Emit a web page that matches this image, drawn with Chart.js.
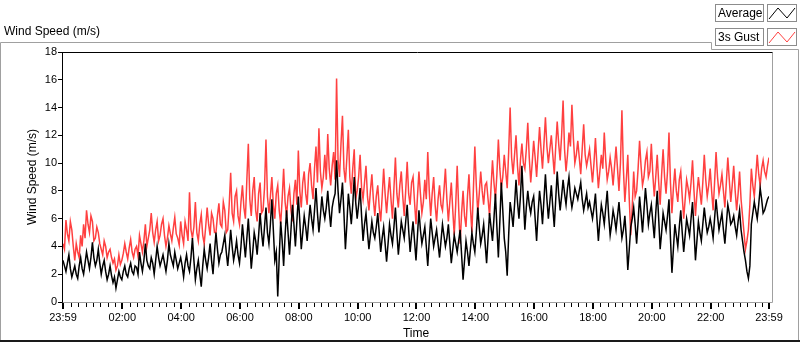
<!DOCTYPE html>
<html>
<head>
<meta charset="utf-8">
<script src="https://cdn.jsdelivr.net/npm/chart.js@4"></script>
<style>
  html, body { margin: 0; padding: 0; background: #fff; }
  #wrap { width: 800px; height: 342px; }
</style>
</head>
<body>
<div id="wrap"><canvas id="c" width="800" height="342"></canvas></div>
<script>
// one sample every 3 minutes, starting at 23:59
const SAMPLE_MIN = 3;

// 3s gust (m/s)
const gustSpeed = [
  4.2, 3.8, 5.9, 4.9, 4.4, 5.8, 5.2, 4.0, 3.0, 4.2, 3.6, 3.2, 4.8, 4.0, 5.6, 4.6, 6.6, 5.6, 5.0, 6.2,
  5.8, 4.4, 4.6, 5.4, 5.0, 4.2, 3.8, 3.4, 4.4, 4.0, 3.2, 3.6, 3.8, 3.2, 2.8, 3.1, 2.3, 2.6, 3.4, 2.7,
  3.0, 3.5, 4.2, 3.6, 3.1, 3.9, 4.5, 3.6, 3.2, 3.8, 4.0, 3.3, 4.8, 4.2, 3.6, 4.4, 5.6, 4.0, 4.6, 5.2,
  6.4, 5.0, 4.3, 5.2, 5.8, 4.4, 4.8, 5.6, 6.0, 4.8, 4.0, 4.6, 5.5, 4.9, 4.4, 5.3, 6.1, 4.9, 4.6, 4.1,
  5.8, 4.8, 4.2, 5.8, 5.2, 4.4, 7.9, 5.2, 4.6, 5.4, 7.2, 5.0, 4.4, 5.6, 6.3, 4.8, 4.2, 5.4, 6.8, 5.6,
  4.8, 6.4, 6.0, 5.0, 5.0, 6.2, 7.1, 5.6, 5.4, 7.2, 6.6, 5.0, 5.2, 7.0, 9.3, 6.4, 5.8, 7.6, 8.0, 6.2,
  5.6, 7.2, 8.4, 6.8, 6.0, 8.8, 11.4, 7.4, 6.2, 8.0, 9.0, 6.6, 5.8, 7.8, 8.6, 6.4, 6.6, 8.2, 11.7, 7.6,
  6.4, 7.6, 9.0, 7.0, 6.0, 7.8, 8.4, 6.6, 5.6, 7.4, 9.6, 7.2, 6.2, 7.6, 8.2, 6.6, 5.8, 7.8, 8.8, 7.0,
  10.9, 8.0, 6.8, 8.6, 9.4, 7.8, 7.0, 9.2, 10.0, 8.4, 7.4, 9.6, 11.2, 8.6, 12.5, 9.4, 8.2, 9.0, 10.6, 8.8,
  12.1, 9.6, 8.4, 9.8, 10.8, 8.8, 16.1, 10.2, 9.0, 11.4, 13.4, 9.6, 8.6, 10.4, 12.4, 9.0, 7.8, 9.6, 11.0, 7.4,
  8.0, 9.0, 10.6, 8.2, 7.4, 8.6, 9.8, 7.6, 6.6, 8.0, 9.2, 7.4, 6.2, 7.6, 8.4, 6.8, 5.8, 7.6, 9.6, 7.8,
  6.4, 7.8, 9.0, 7.4, 6.0, 8.2, 10.4, 7.8, 6.8, 8.4, 9.4, 7.6, 6.2, 8.0, 10.1, 7.8, 7.0, 8.6, 9.0, 7.2,
  5.6, 7.6, 9.4, 7.8, 6.4, 7.2, 8.8, 7.4, 10.8, 8.0, 6.2, 7.8, 9.0, 7.0, 5.8, 7.4, 8.4, 7.0, 6.6, 8.0,
  9.6, 7.4, 5.8, 7.2, 8.6, 6.6, 4.8, 7.0, 9.8, 6.8, 4.2, 6.4, 8.0, 6.2, 5.4, 7.6, 9.2, 6.8, 5.0, 8.0,
  11.2, 8.4, 6.4, 7.8, 9.4, 8.0, 7.0, 8.4, 8.6, 7.4, 6.2, 8.2, 10.2, 8.6, 7.4, 9.2, 11.7, 9.6, 8.2, 9.0,
  10.6, 9.4, 8.2, 10.8, 14.0, 10.4, 9.2, 10.6, 12.0, 9.8, 8.4, 10.2, 11.4, 10.0, 9.6, 11.0, 12.9, 10.4, 8.6, 10.0,
  11.6, 10.4, 9.0, 10.8, 12.6, 11.0, 9.6, 11.4, 13.3, 11.2, 10.0, 11.0, 12.0, 10.6, 9.2, 11.2, 13.0, 11.4, 10.2, 12.0,
  14.5, 11.0, 9.4, 10.6, 12.2, 11.2, 14.2, 11.8, 10.0, 10.6, 11.6, 10.4, 9.2, 11.0, 12.8, 10.6, 9.8, 10.4, 11.0, 9.8,
  8.6, 10.0, 11.8, 9.8, 8.2, 9.4, 10.6, 9.6, 12.2, 10.2, 8.8, 9.4, 10.4, 9.6, 8.4, 9.8, 11.2, 9.6, 8.0, 10.0,
  13.8, 9.6, 7.2, 8.8, 10.6, 7.4, 4.8, 6.8, 9.4, 7.6, 8.0, 9.6, 11.6, 9.8, 8.4, 9.0, 10.2, 10.8, 9.0, 9.4,
  11.4, 9.2, 7.6, 9.0, 10.6, 8.6, 7.0, 9.2, 11.0, 9.0, 7.8, 9.4, 12.2, 8.6, 6.4, 8.2, 9.6, 8.0, 7.2, 8.8,
  9.4, 7.6, 6.0, 7.4, 8.8, 8.2, 7.4, 8.6, 10.2, 8.0, 6.2, 7.8, 9.0, 8.0, 7.0, 8.6, 10.6, 8.8, 7.6, 8.4,
  9.6, 8.0, 6.6, 8.6, 10.8, 9.0, 7.8, 8.4, 9.2, 8.0, 6.8, 8.6, 10.4, 8.8, 7.2, 8.4, 9.8, 8.0, 6.6, 7.8,
  9.4, 7.4, 6.2, 5.0, 3.8, 4.4, 5.2, 7.0, 9.6, 8.4, 7.6, 9.0, 10.6, 9.2, 8.4, 9.6, 10.2, 9.4, 9.0, 9.8, 10.4
];

// average (m/s)
const avgSpeed = [
  3.0, 2.6, 2.2, 2.8, 3.4, 2.4, 1.8, 2.2, 2.6, 2.0, 1.7, 2.6, 3.2, 2.4, 2.0, 2.8, 3.6, 3.0, 2.4, 3.2,
  4.3, 3.2, 2.6, 3.0, 3.8, 2.8, 2.0, 2.6, 3.0, 2.2, 1.6, 2.0, 2.6, 1.9, 1.4, 1.8, 1.0, 1.6, 2.2, 1.8,
  1.6, 2.2, 2.6, 2.0, 1.8, 2.4, 2.8, 2.2, 2.0, 2.6, 2.5, 2.0, 3.6, 2.8, 2.2, 3.0, 4.2, 3.0, 2.6, 2.4,
  3.2, 2.8, 2.0, 3.0, 4.0, 3.2, 2.6, 3.0, 3.4, 2.8, 2.2, 3.0, 4.2, 3.4, 3.0, 2.6, 3.6, 3.0, 2.4, 2.8,
  3.2, 2.6, 1.8, 2.8, 3.4, 2.6, 2.2, 3.2, 4.6, 3.0, 1.6, 2.4, 3.0, 2.0, 1.1, 2.6, 3.8, 3.0, 2.4, 3.2,
  4.2, 3.0, 2.0, 3.6, 5.0, 3.8, 2.8, 3.4, 3.6, 4.2, 4.8, 3.6, 2.6, 3.8, 5.2, 4.0, 3.0, 3.6, 4.4, 3.4,
  2.8, 4.0, 5.6, 4.4, 3.2, 4.6, 6.0, 4.2, 2.4, 3.6, 5.0, 4.4, 3.4, 4.8, 6.4, 5.0, 4.0, 5.4, 6.8, 5.0,
  4.2, 5.6, 7.4, 5.2, 3.0, 3.6, 0.4, 3.2, 5.8, 4.4, 2.6, 4.8, 6.6, 5.0, 3.4, 5.2, 7.0, 5.6, 4.0, 5.8,
  7.6, 5.8, 3.8, 5.0, 6.2, 5.4, 4.4, 5.8, 7.0, 6.0, 5.2, 6.6, 8.2, 6.4, 5.0, 6.2, 7.6, 6.6, 6.0, 6.8,
  8.0, 6.6, 5.4, 6.8, 7.4, 7.8, 10.2, 8.0, 6.4, 7.4, 8.6, 6.4, 3.8, 5.6, 7.8, 6.8, 5.6, 7.0, 9.0, 7.2,
  6.0, 7.0, 8.2, 6.2, 4.4, 5.6, 6.4, 5.0, 3.8, 4.8, 5.8, 5.0, 4.6, 5.4, 6.4, 5.0, 3.6, 4.6, 5.4, 4.2,
  2.9, 4.2, 5.6, 4.8, 4.2, 5.4, 6.8, 5.0, 3.4, 4.6, 5.8, 5.2, 4.6, 5.8, 7.0, 5.2, 3.6, 4.8, 5.8, 4.4,
  3.0, 4.8, 6.6, 5.2, 4.2, 4.8, 5.4, 4.0, 2.6, 4.4, 6.0, 5.0, 4.0, 4.6, 5.2, 4.2, 3.2, 4.4, 5.6, 4.8,
  4.0, 4.6, 5.6, 4.2, 2.8, 3.8, 4.8, 4.2, 3.6, 4.4, 5.2, 3.4, 1.6, 3.0, 4.4, 3.6, 2.6, 3.8, 5.0, 4.2,
  3.6, 5.0, 6.8, 5.4, 4.2, 4.8, 5.6, 4.2, 2.8, 4.6, 6.4, 5.4, 4.4, 6.0, 7.8, 5.4, 3.2, 5.8, 8.6, 6.6,
  4.6, 3.6, 1.9, 4.8, 7.2, 6.4, 5.4, 7.0, 8.8, 7.2, 6.0, 7.6, 9.8, 7.4, 5.2, 6.8, 8.0, 7.0, 6.4, 7.2,
  7.6, 6.0, 4.4, 6.4, 8.0, 7.0, 5.6, 7.4, 9.2, 7.4, 6.0, 7.2, 8.4, 6.8, 5.4, 7.4, 9.4, 7.8, 6.6, 7.6,
  8.8, 7.8, 7.0, 8.2, 9.0, 7.6, 6.8, 7.4, 8.2, 7.8, 7.4, 8.0, 8.6, 7.4, 6.6, 7.2, 7.8, 6.8, 7.2, 6.6,
  6.0, 6.8, 7.8, 6.0, 4.4, 5.8, 7.0, 6.4, 5.6, 6.8, 8.0, 6.2, 4.8, 5.6, 6.6, 6.0, 5.2, 6.2, 7.2, 5.8,
  4.6, 5.2, 6.2, 4.6, 2.3, 3.8, 5.4, 6.0, 6.8, 5.6, 4.2, 5.8, 7.6, 6.4, 5.0, 6.6, 8.2, 7.0, 5.6, 6.4,
  7.0, 5.8, 4.6, 6.4, 8.0, 6.0, 3.8, 5.0, 6.4, 5.8, 5.2, 6.2, 7.4, 4.6, 2.1, 3.8, 5.6, 4.8, 4.0, 5.4,
  6.6, 5.0, 3.6, 4.8, 6.0, 5.4, 4.8, 6.0, 7.2, 5.2, 3.0, 4.4, 5.8, 5.0, 4.4, 5.6, 6.8, 5.8, 5.0, 5.4,
  6.0, 5.4, 4.6, 6.0, 7.4, 6.2, 5.2, 5.8, 6.4, 5.2, 4.2, 5.6, 7.0, 6.4, 5.6, 5.8, 6.2, 5.4, 4.8, 5.8,
  6.6, 5.2, 4.4, 3.6, 3.0, 2.2, 1.7, 2.6, 5.6, 6.4, 7.2, 6.6, 6.0, 7.0, 8.2, 7.4, 6.4, 6.6, 7.0, 7.4, 7.6
];

// x axis: minutes after 23:59
const timeTickMinutes = [0, 121, 241, 361, 481, 601, 721, 841, 961, 1081, 1201, 1321, 1440];
const timeTickLabels = ['23:59', '02:00', '04:00', '06:00', '08:00', '10:00', '12:00',
  '14:00', '16:00', '18:00', '20:00', '22:00', '23:59'];

const FONT = '"Liberation Sans", Arial, sans-serif';
const GRAY = '#a0a0a0';

function toPoints(values) {
  return values.map((v, i) => ({ x: i * SAMPLE_MIN, y: v }));
}

// LabVIEW-like frame, caption, legend and minor ticks
const frame = {
  id: 'frame',
  afterDraw(chart) {
    const ctx = chart.ctx;
    const a = chart.chartArea;
    const xs = chart.scales.x;
    ctx.save();
    ctx.lineWidth = 1;

    // outer panel
    ctx.strokeStyle = GRAY;
    ctx.beginPath();
    ctx.moveTo(0.5, 342); ctx.lineTo(0.5, 42.5); ctx.lineTo(711.5, 42.5);
    ctx.lineTo(711.5, 49.5); ctx.lineTo(798.5, 49.5); ctx.lineTo(798.5, 342);
    ctx.stroke();
    ctx.fillStyle = '#1a1a1a';
    ctx.fillRect(0, 340, 800, 2);

    // caption
    ctx.fillStyle = '#000';
    ctx.font = '12px ' + FONT;
    ctx.textBaseline = 'middle';
    ctx.textAlign = 'left';
    ctx.fillText('Wind Speed (m/s)', 4, 32);

    // plot frame
    const L = a.left - 0.5, T = a.top + 0.5, R = 772.5, B = a.bottom + 0.5;
    ctx.strokeStyle = GRAY;
    ctx.beginPath();
    ctx.moveTo(L, B); ctx.lineTo(R, B); ctx.lineTo(R, T);
    ctx.stroke();
    ctx.strokeStyle = '#000';
    ctx.beginPath();
    ctx.moveTo(L, B); ctx.lineTo(L, T); ctx.lineTo(R, T);
    ctx.stroke();

    // minor ticks every 15 min
    ctx.beginPath();
    for (let k = 1; k < 96; k++) {
      if (k % 8 === 0) continue;
      const px = Math.round(xs.getPixelForValue(1 + 15 * k)) + 0.5;
      ctx.moveTo(px, a.bottom + 1);
      ctx.lineTo(px, a.bottom + 5);
    }
    ctx.stroke();

    // legend
    chart.data.datasets.forEach((ds, i) => {
      const yy = Math.round(3.5 + i * 24.5);
      ctx.strokeStyle = '#8c8c8c';
      ctx.lineWidth = 1;
      ctx.strokeRect(715.5, yy + 0.5, 48, 17);
      ctx.strokeRect(767.5, yy + 0.5, 29, 17);
      ctx.fillStyle = '#000';
      ctx.font = '12px ' + FONT;
      ctx.fillText(ds.label, 718, yy + 9.5);
      ctx.strokeStyle = ds.borderColor;
      ctx.beginPath();
      ctx.moveTo(769, yy + 15); ctx.lineTo(778, yy + 4);
      ctx.lineTo(787, yy + 14); ctx.lineTo(795, yy + 4);
      ctx.stroke();
    });
    ctx.restore();
  }
};

new Chart(document.getElementById('c'), {
  type: 'line',
  data: {
    datasets: [
      { label: 'Average', data: toPoints(avgSpeed), borderColor: '#000000', borderWidth: 1.5 },
      { label: '3s Gust', data: toPoints(gustSpeed), borderColor: '#ff4040', borderWidth: 1.5 }
    ]
  },
  options: {
    responsive: false,
    animation: false,
    elements: { point: { radius: 0 }, line: { tension: 0, borderJoinStyle: 'miter' } },
    layout: { padding: { top: 52, right: 31, left: 0, bottom: 0 } },
    plugins: { legend: { display: false }, tooltip: { enabled: false } },
    scales: {
      x: {
        type: 'linear',
        min: 0,
        max: 1440,
        afterBuildTicks: (s) => { s.ticks = timeTickMinutes.map((v) => ({ value: v })); },
        afterFit: (s) => { s.height = 40; },
        ticks: {
          autoSkip: false,
          maxRotation: 0,
          padding: 2,
          color: '#000',
          font: { family: FONT, size: 11 },
          callback: (v) => timeTickLabels[timeTickMinutes.indexOf(v)]
        },
        grid: { drawOnChartArea: false, tickLength: 7, color: '#000', lineWidth: 2 },
        border: { display: false },
        title: {
          display: true, text: 'Time', color: '#000',
          font: { family: FONT, size: 12 }, padding: { top: 0, bottom: 1 }
        }
      },
      y: {
        min: 0,
        max: 18,
        afterFit: (s) => { s.width = 63; },
        ticks: { stepSize: 2, padding: 1, color: '#000', font: { family: FONT, size: 11 } },
        grid: { drawOnChartArea: false, tickLength: 5, color: '#000', lineWidth: 1 },
        border: { display: false },
        title: {
          display: true, text: 'Wind Speed (m/s)', color: '#000',
          font: { family: FONT, size: 12 }, padding: { top: 25, bottom: 0 }
        }
      }
    }
  },
  plugins: [frame]
});
</script>
</body>
</html>
